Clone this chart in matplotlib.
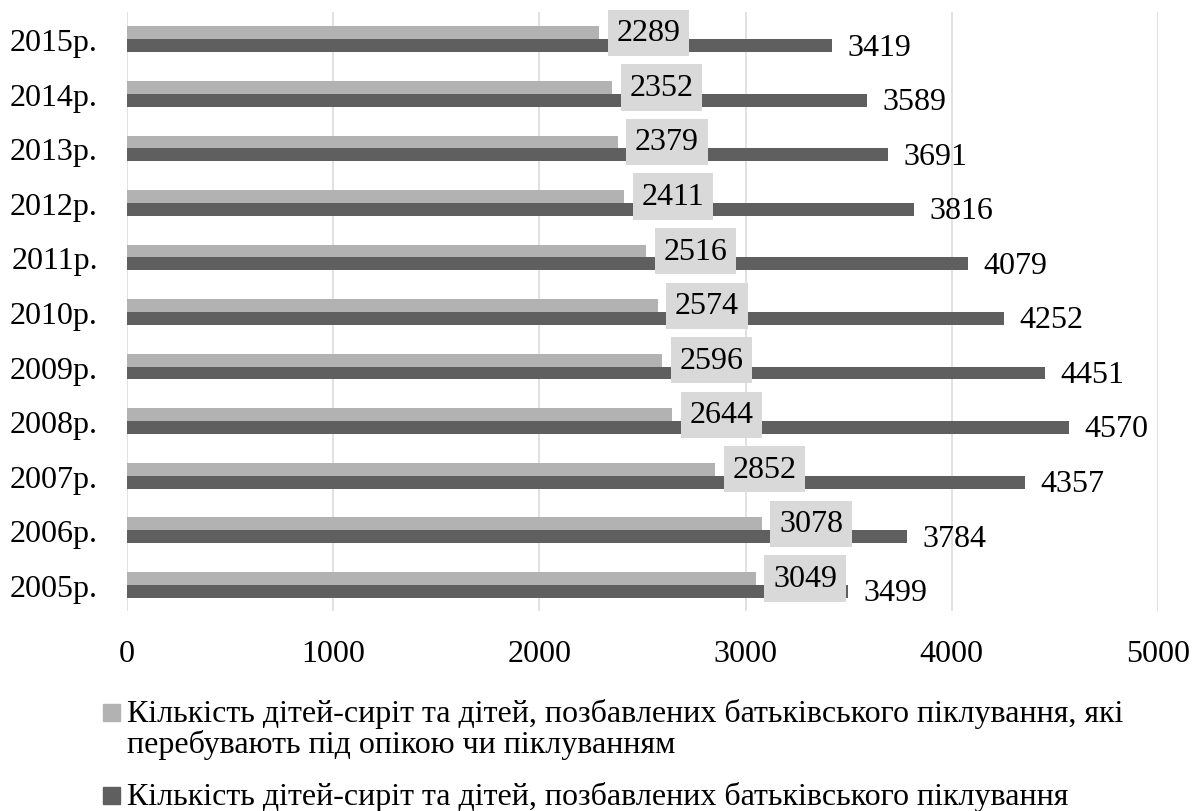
import numpy as np
import matplotlib
matplotlib.use('Agg')
import matplotlib.pyplot as plt
from matplotlib.patches import Rectangle

plt.rcParams['font.family'] = ['Liberation Serif', 'DejaVu Serif']

years = ['2005р.', '2006р.', '2007р.', '2008р.', '2009р.', '2010р.',
         '2011р.', '2012р.', '2013р.', '2014р.', '2015р.']
guardianship = [3049, 3078, 2852, 2644, 2596, 2574, 2516, 2411, 2379, 2352, 2289]
orphans_total = [3499, 3784, 4357, 4570, 4451, 4252, 4079, 3816, 3691, 3589, 3419]
xticks = [0, 1000, 2000, 3000, 4000, 5000]

label_light = ['Кількість дітей-сиріт та дітей, позбавлених батьківського піклування, які',
               'перебувають під опікою чи піклуванням']
label_dark = ['Кількість дітей-сиріт та дітей, позбавлених батьківського піклування']

light = '#b2b2b2'
dark = '#5f5f5f'
fs = 23

W, H = 1198, 812
fig = plt.figure(figsize=(W / 100, H / 100), dpi=100)
ax = fig.add_axes([127 / W, 1 - 612 / H, (1158 - 127) / W, (612 - 13) / H])

y = np.arange(len(years))
h = 0.235
ax.barh(y + h / 2, guardianship, height=h, color=light, zorder=2)
ax.barh(y - h / 2, orphans_total, height=h, color=dark, zorder=2)

for yi, v in zip(y, guardianship):
    ax.annotate(str(v), (v, yi + h / 2), xytext=(12.5, 0), textcoords='offset points',
                ha='left', va='center', fontsize=fs, zorder=4,
                bbox=dict(boxstyle='square,pad=0.27', fc='#d9d9d9', ec='none'))
for yi, v in zip(y, orphans_total):
    ax.annotate(str(v), (v, yi - h / 2), xytext=(11, -1), textcoords='offset points',
                ha='left', va='center', fontsize=fs, zorder=4)

ax.set_xlim(0, 5000)
ax.set_ylim(-0.48, 10.5)
ax.set_xticks(xticks)
ax.set_yticks(y)
ax.set_yticklabels(years)
ax.tick_params(axis='both', length=0, labelsize=fs)
ax.tick_params(axis='y', pad=21)
ax.tick_params(axis='x', pad=20)
ax.grid(axis='x', color='#d9d9d9', lw=1.1, zorder=0)
ax.set_axisbelow(True)
for s in ax.spines.values():
    s.set_visible(False)

# legend drawn by hand so the marker sits on the first line
def fx(px):
    return px / W

def fy(py):
    return 1 - py / H

sq = 17
fig.add_artist(Rectangle((fx(103), fy(722)), sq / W, sq / H, color=light,
                         transform=fig.transFigure))
fig.text(fx(127), fy(722), label_light[0], fontsize=fs, va='baseline', ha='left')
fig.text(fx(127), fy(753), label_light[1], fontsize=fs, va='baseline', ha='left')
fig.add_artist(Rectangle((fx(103), fy(805)), sq / W, sq / H, color=dark,
                         transform=fig.transFigure))
fig.text(fx(127), fy(805), label_dark[0], fontsize=fs, va='baseline', ha='left')

fig.savefig('out.png', dpi=100)
